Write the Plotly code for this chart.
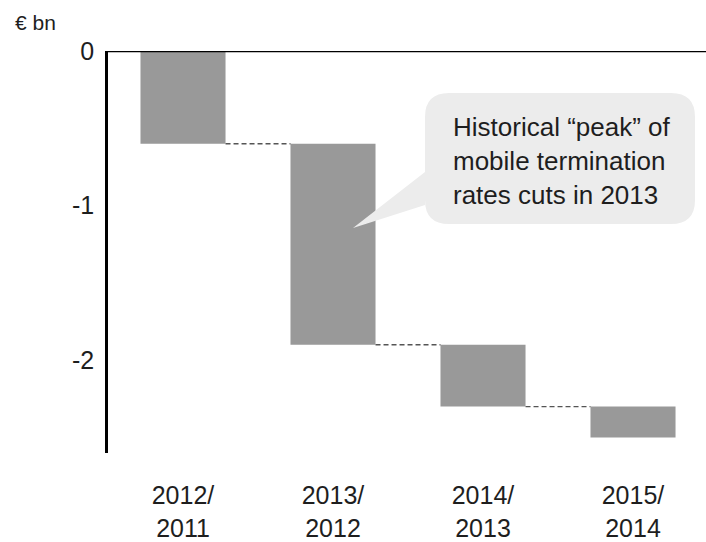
import plotly.graph_objects as go

# Year-on-year change, € bn (waterfall steps)
periods = ["2012/<br>2011", "2013/<br>2012", "2014/<br>2013", "2015/<br>2014"]
deltas = [-0.6, -1.3, -0.4, -0.2]
y_ticks = [0, -1, -2]
y_tick_text = ["0", "-1", "-2"]
callout_text = "Historical \u201cpeak\u201d of<br>mobile termination<br>rates cuts in 2013"

# cumulative bases for the floating bars
bases = []
level = 0.0
for d in deltas:
    bases.append(level)
    level += d
ends = [b + d for b, d in zip(bases, deltas)]

xpos = list(range(len(periods)))
bar_w = 0.567

W_FIG, H_FIG = 706, 542
M_L, M_R, M_T, M_B = 108, 0, 51, 89
PW = W_FIG - M_L - M_R
PH = H_FIG - M_T - M_B
X_RANGE = [-0.5, -0.5 + PW / 150.0]
Y_RANGE = [-2.6, 0]

FONT = "Liberation Sans, Arial, sans-serif"
TXT = "#1e1e1e"


def dx(px):
    return X_RANGE[0] + (px - M_L) / PW * (X_RANGE[1] - X_RANGE[0])


def dy(py):
    return Y_RANGE[1] - (py - M_T) / PH * (Y_RANGE[1] - Y_RANGE[0])


fig = go.Figure()

fig.add_trace(go.Bar(
    x=xpos, y=deltas, base=bases, width=bar_w,
    marker=dict(color="#999999", line=dict(width=0)),
    showlegend=False, hoverinfo="skip",
))

# dashed connectors between consecutive bars
for i in range(len(deltas) - 1):
    fig.add_trace(go.Scatter(
        x=[xpos[i] + bar_w / 2, xpos[i + 1] - bar_w / 2],
        y=[ends[i], ends[i]],
        mode="lines",
        line=dict(color="#555555", width=1.3, dash="5px,3px"),
        showlegend=False, hoverinfo="skip",
    ))

# speech-bubble callout
bx0, bx1, by0, by1, r = 425, 695, 93, 224, 24
base_hi, base_lo = 172, 205
tip = (353, 228)


def P(px, py):
    return f"{dx(px)},{dy(py)}"


path = (
    f"M {P(bx0 + r, by0)} L {P(bx1 - r, by0)} Q {P(bx1, by0)} {P(bx1, by0 + r)} "
    f"L {P(bx1, by1 - r)} Q {P(bx1, by1)} {P(bx1 - r, by1)} "
    f"L {P(bx0 + r, by1)} Q {P(bx0, by1)} {P(bx0, by1 - r)} "
    f"L {P(bx0, base_lo)} L {P(*tip)} L {P(bx0, base_hi)} "
    f"L {P(bx0, by0 + r)} Q {P(bx0, by0)} {P(bx0 + r, by0)} Z"
)
fig.add_shape(type="path", path=path, xref="x", yref="y",
              fillcolor="#ececec", line=dict(width=0), layer="above")

fig.add_annotation(
    x=dx(451), y=dy(110), xref="x", yref="y",
    text=callout_text, showarrow=False, align="left",
    xanchor="left", yanchor="top",
    font=dict(family=FONT, size=26, color=TXT),
)

# top baseline at zero
fig.add_shape(type="line", xref="paper", yref="y", x0=0, x1=1, y0=0, y1=0,
              line=dict(color="black", width=2.5), layer="above")

fig.add_annotation(
    x=(13 - M_L) / PW, y=(H_FIG - M_B - 22) / PH, xref="paper", yref="paper",
    text="\u20ac bn", showarrow=False, xanchor="left", yanchor="middle",
    font=dict(family=FONT, size=21, color=TXT),
)

fig.update_layout(
    width=W_FIG, height=H_FIG,
    margin=dict(l=M_L, r=M_R, t=M_T, b=M_B, pad=0, autoexpand=False),
    paper_bgcolor="white", plot_bgcolor="white",
    font=dict(family=FONT, color=TXT),
    bargap=0.43,
    xaxis=dict(
        range=X_RANGE, tickmode="array", tickvals=xpos, ticktext=periods,
        showgrid=False, zeroline=False, showline=False, ticks="",
        tickfont=dict(size=25, color=TXT), ticklabelstandoff=25,
        automargin=False, fixedrange=True,
    ),
    yaxis=dict(
        range=Y_RANGE, tickmode="array", tickvals=y_ticks, ticktext=y_tick_text,
        showgrid=False, zeroline=False, showline=True,
        linecolor="black", linewidth=2.5, ticks="",
        tickfont=dict(size=25, color=TXT), ticklabelstandoff=6,
        automargin=False, fixedrange=True,
    ),
)

fig.write_html("out.html")
